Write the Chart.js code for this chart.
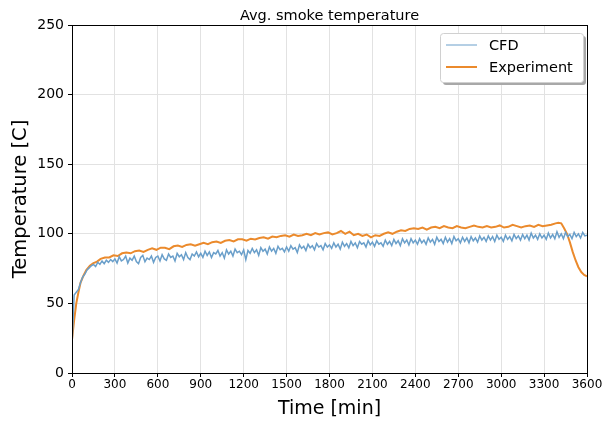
<!DOCTYPE html>
<html>
<head>
<meta charset="utf-8">
<script src="https://cdn.jsdelivr.net/npm/chart.js@4/dist/chart.umd.min.js"></script>
<style>
  html, body { margin: 0; padding: 0; background: #fff; }
  #wrap { width: 607px; height: 424px; }
</style>
</head>
<body>
<div id="wrap"><canvas id="myChart"></canvas></div>
<script>
let chartTitle = 'Avg. smoke temperature';
let xTitle = 'Time [min]';
let yTitle = 'Temperature [C]';
let seriesNames = ['CFD', 'Experiment'];
let seriesColors = ['#6a9fca', '#eb8a2c'];

// CFD sampled every 15 min (0 .. 3600)
let cfdStep = 15;
let cfdTemp = [
  20, 56, 58, 60, 65, 69, 71, 74, 75.5, 77, 78, 76.5, 79.5, 78, 80.5, 78.5, 81, 79.5, 81.5, 80,
  82, 79, 83.5, 80.5, 81.5, 84, 79, 82.5, 81, 84, 80, 78.5, 83, 84.5, 80, 82.5, 81.5, 84, 79.5, 83,
  84, 80.5, 85, 82, 81, 85.5, 83, 84, 80.5, 86, 83.5, 85, 81.5, 86.5, 83, 81.5, 85.5, 84, 87, 83.5,
  86, 83, 87.5, 84.5, 87, 83, 86.5, 85.5, 88, 84, 86.5, 82.5, 88.5, 85.5, 87.5, 84, 89, 86.5, 87.5, 85,
  88.5, 81.5, 88, 86, 89.5, 86.5, 88.5, 84.5, 90, 87.5, 89, 85.5, 90.5, 87.5, 89.5, 86, 91, 88.5, 89.5, 87,
  90.5, 87.5, 91.5, 89, 90, 86.5, 92, 89.5, 91, 88, 92.5, 90, 91.5, 88.5, 93, 90.5, 91.5, 88.5, 93, 90.5,
  92, 89.5, 93.5, 90.5, 92.5, 89, 94, 91, 93, 90, 94.5, 91.5, 93.5, 90, 94.5, 92.5, 93.5, 90.5, 95, 92,
  94, 91, 95, 92.5, 93.5, 91, 95.5, 92.5, 94.5, 91.5, 96, 93, 95, 91.5, 96.5, 93.5, 95.5, 92, 96.5, 93.5,
  95.5, 92.5, 96.5, 93.5, 95.5, 92.5, 97, 94, 96, 92.5, 97.5, 94.5, 96, 93, 97.5, 94, 96.5, 93, 98, 95,
  96.5, 93.5, 97.5, 94.5, 97, 93.5, 98, 95, 97, 94, 98.5, 95.5, 97.5, 94.5, 98.5, 95.5, 98, 94.5, 99, 96,
  97.5, 94.5, 99, 96, 98, 95, 99.5, 96.5, 98.5, 95.5, 99.5, 96.5, 99, 95.5, 100.5, 97, 99, 96, 100, 97,
  99, 96, 100.5, 97, 99.5, 96.5, 101.5, 97.5, 100, 96.5, 101, 98, 99.5, 96.5, 101, 98, 100, 97, 101, 98.5,
  99
];

let expTime = [
  0, 15, 30, 45, 60, 80, 100, 125, 150, 175, 200, 230, 260, 290, 320, 350, 380, 410, 440, 470,
  500, 530, 560, 590, 620, 650, 680, 710, 740, 770, 800, 830, 860, 890, 920, 950, 980, 1010, 1040, 1070,
  1100, 1130, 1160, 1190, 1220, 1250, 1280, 1310, 1340, 1370, 1400, 1430, 1460, 1490, 1520, 1550, 1580, 1610, 1640, 1670,
  1700, 1730, 1760, 1790, 1820, 1850, 1880, 1910, 1940, 1970, 2000, 2030, 2060, 2090, 2120, 2150, 2180, 2210, 2240, 2270,
  2300, 2330, 2360, 2390, 2420, 2450, 2480, 2510, 2540, 2570, 2600, 2630, 2660, 2690, 2720, 2750, 2780, 2810, 2840, 2870,
  2900, 2930, 2960, 2990, 3020, 3050, 3080, 3110, 3140, 3170, 3200, 3230, 3260, 3290, 3320, 3350, 3380, 3400, 3420, 3440,
  3460, 3480, 3500, 3520, 3540, 3560, 3580, 3600
];
let expTemp = [
  24, 38, 50, 58, 65, 70, 74, 77, 79, 80, 82, 83, 83, 84.5, 84, 86, 86.5, 86, 87.5, 88,
  87, 88.5, 89.5, 88.5, 90, 90, 89, 91, 91.5, 90.5, 92, 92.5, 91.5, 92.5, 93.5, 92.5, 94, 94.5, 93.5, 95,
  95.5, 94.5, 96, 96, 95, 96.5, 96, 97, 97.5, 96.5, 98, 97.5, 98.5, 99, 98, 99.5, 98.5, 99, 100, 99,
  100.5, 99.5, 100.5, 101, 99.5, 100.5, 102, 100, 101.5, 99, 100, 98.5, 99.5, 97.5, 99, 98.5, 100, 101, 100, 101.5,
  102.5, 102, 103.5, 104, 103.5, 104.5, 103, 104.5, 105, 104, 105.5, 104.5, 104, 105.5, 104.5, 104, 105, 106, 105, 104.5,
  105.5, 104.5, 105, 106, 104.5, 105, 106.5, 105.5, 104.5, 105.5, 106, 105, 106.5, 105.5, 106, 106.5, 107.5, 108, 107.5, 104,
  100, 94, 87, 81, 76, 72.5, 70.5, 69.5
];

let xTicks = [0, 300, 600, 900, 1200, 1500, 1800, 2100, 2400, 2700, 3000, 3300, 3600];
let yTicks = [0, 50, 100, 150, 200, 250];

let cfdPoints = cfdTemp.map((v, i) => ({ x: i * cfdStep, y: v }));
let expPoints = expTemp.map((v, i) => ({ x: expTime[i], y: v }));

let font = 'DejaVu Sans';

// frame, title and matplotlib-like legend
let decorPlugin = {
  id: 'decor',
  afterDraw(chart) {
    let ctx = chart.ctx;
    let a = chart.chartArea;
    ctx.save();
    ctx.strokeStyle = '#000';
    ctx.lineWidth = 1;
    ctx.strokeRect(Math.round(a.left) + 0.5, Math.round(a.top) + 0.5, Math.round(a.right - a.left), Math.round(a.bottom - a.top));

    ctx.fillStyle = '#000';
    ctx.font = '14.5px "' + font + '"';
    ctx.textAlign = 'center';
    ctx.textBaseline = 'middle';
    ctx.fillText(chartTitle, (a.left + a.right) / 2, 16);

    // legend
    let bx = 440, by = 33, bw = 143, bh = 49;
    ctx.fillStyle = '#a8a8a8';
    ctx.beginPath();
    ctx.roundRect(bx + 3, by + 3, bw, bh, 3);
    ctx.fill();
    ctx.fillStyle = '#fff';
    ctx.strokeStyle = '#d0d0d0';
    ctx.beginPath();
    ctx.roundRect(bx + 0.5, by + 0.5, bw, bh, 3);
    ctx.fill();
    ctx.stroke();

    ctx.font = '14.5px "' + font + '"';
    ctx.textAlign = 'left';
    chart.data.datasets.forEach((ds, i) => {
      let ly = by + 12 + i * 22;
      ctx.strokeStyle = ds.borderColor;
      ctx.lineWidth = i === 0 ? 1 : 2;
      ctx.beginPath();
      ctx.moveTo(bx + 6, ly);
      ctx.lineTo(bx + 37, ly);
      ctx.stroke();
      ctx.fillStyle = '#000';
      ctx.fillText(ds.label, bx + 49, ly + 1);
    });
    ctx.restore();
  }
};

let myChart = document.getElementById('myChart').getContext('2d');

let chart = new Chart(myChart, {
  type: 'line',
  data: {
    datasets: [
      {
        label: seriesNames[0],
        data: cfdPoints,
        borderColor: seriesColors[0],
        borderWidth: 1.5,
        pointRadius: 0,
        tension: 0
      },
      {
        label: seriesNames[1],
        data: expPoints,
        borderColor: seriesColors[1],
        borderWidth: 2,
        pointRadius: 0,
        tension: 0
      }
    ]
  },
  options: {
    responsive: true,
    maintainAspectRatio: false,
    animation: false,
    layout: { padding: { left: 0, right: 20, top: 25, bottom: 0 } },
    plugins: {
      legend: { display: false },
      title: { display: false },
      tooltip: { enabled: false }
    },
    scales: {
      x: {
        type: 'linear',
        min: 0,
        max: 3600,
        afterBuildTicks: (scale) => { scale.ticks = xTicks.map(v => ({ value: v })); },
        afterFit: (scale) => { scale.height = 51; },
        grid: { color: '#e2e2e2', tickColor: '#000', tickLength: 4, drawTicks: true },
        border: { color: '#000' },
        ticks: { color: '#000', padding: 1, maxRotation: 0, autoSkip: false, font: { family: font, size: 12 },
          callback: (v) => String(v) },
        title: { display: true, text: xTitle, color: '#000', padding: { top: 0, bottom: 4 }, font: { family: font, size: 19 } }
      },
      y: {
        min: 0,
        max: 250,
        afterBuildTicks: (scale) => { scale.ticks = yTicks.map(v => ({ value: v })); },
        afterFit: (scale) => { scale.width = 72; },
        grid: { color: '#e2e2e2', tickColor: '#000', tickLength: 4, drawTicks: true },
        border: { color: '#000' },
        ticks: { color: '#000', padding: 4, font: { family: font, size: 14 }, callback: (v) => String(v) },
        title: { display: true, text: yTitle, color: '#000', padding: { top: 9, bottom: 0 }, font: { family: font, size: 19.5 } }
      }
    }
  },
  plugins: [decorPlugin]
});
</script>
</body>
</html>
